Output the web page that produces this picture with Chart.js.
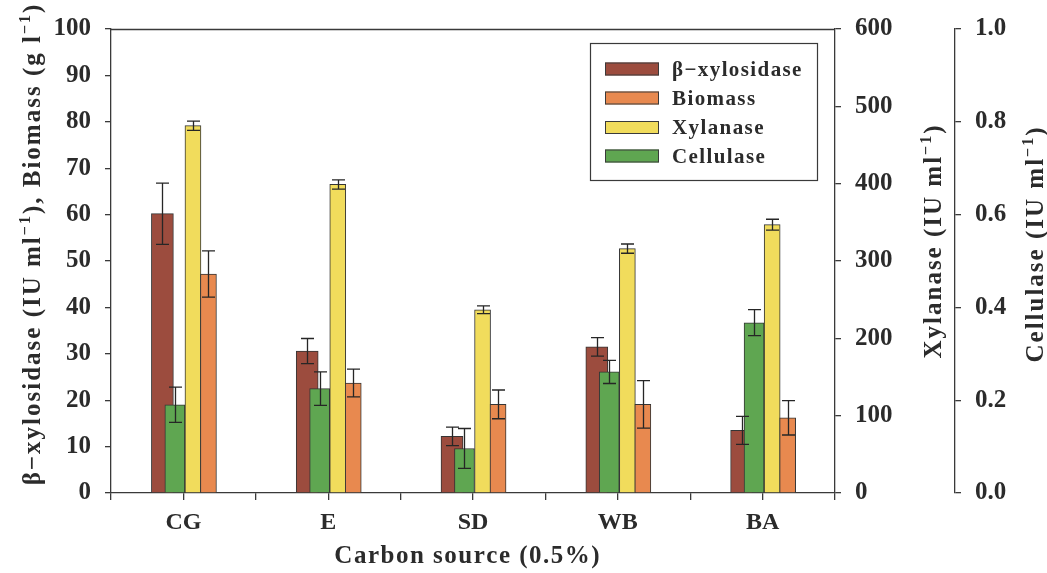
<!DOCTYPE html>
<html><head><meta charset="utf-8">
<script src="https://cdn.jsdelivr.net/npm/chart.js@4"></script>
<style>html,body{margin:0;padding:0;background:#fff;}#wrap{width:1047px;height:573px;}</style>
</head><body><div id="wrap"><canvas id="c" width="1047" height="573"></canvas></div>
<script>
// ---- data ----
const categories = ['CG', 'E', 'SD', 'WB', 'BA'];
const betaXylosidase = [60.2, 30.6, 12.2, 31.5, 13.5];
const betaXylosidaseErr = [6.6, 2.7, 2.0, 2.0, 3.0];
const biomass = [47.2, 23.7, 19.1, 19.1, 16.2];
const biomassErr = [5.0, 3.0, 3.1, 5.1, 3.7];
const xylanase = [475, 399, 237, 316, 347];
const xylanaseErr = [6, 6, 5, 6, 7];
const cellulase = [0.19, 0.225, 0.096, 0.261, 0.367];
const cellulaseErr = [0.038, 0.036, 0.043, 0.025, 0.028];
const leftTicks = [0, 10, 20, 30, 40, 50, 60, 70, 80, 90, 100];
const xylanaseTicks = [0, 100, 200, 300, 400, 500, 600];
const cellulaseTicks = [0.0, 0.2, 0.4, 0.6, 0.8, 1.0];

// ---- style ----
const FONT = '"Liberation Serif", "Times New Roman", serif';
const INK = '#2b2b2b';
const AX = '#3a3a3a';
const colors = { bx: '#9c4c3e', bio: '#e8894f', xyl: '#f1dc5c', cel: '#5fa651' };
// horizontal offset (in category units) and width of each series' bar
const seriesOffset = { bx: -0.145, bio: 0.173, xyl: 0.066, cel: -0.059 };
const seriesWidth = { bx: 22, bio: 16, xyl: 16, cel: 20 };

function pts(vals, key) { return vals.map((v, i) => ({ x: i + 0.5 + seriesOffset[key], y: v })); }

Chart.defaults.font.family = FONT;
Chart.defaults.font.weight = 'bold';
Chart.defaults.font.size = 25;
Chart.defaults.color = INK;

function tickSet(arr) { return s => { s.ticks = arr.map(v => ({ value: v })); }; }

const errorBars = {
  id: 'errorBars',
  afterDatasetsDraw(chart) {
    const ctx = chart.ctx;
    ctx.save();
    ctx.strokeStyle = '#262626';
    ctx.lineWidth = 1.3;
    chart.data.datasets.forEach((ds, di) => {
      const meta = chart.getDatasetMeta(di);
      const ys = chart.scales[ds.yAxisID];
      meta.data.forEach((bar, i) => {
        const v = ds.data[i].y, e = ds.errors[i];
        const yt = ys.getPixelForValue(v + e), yb = ys.getPixelForValue(v - e);
        const x = Math.round(bar.x) + 0.5, h = 6.5;
        ctx.beginPath();
        ctx.moveTo(x, yt); ctx.lineTo(x, yb);
        ctx.moveTo(x - h, yt); ctx.lineTo(x + h, yt);
        ctx.moveTo(x - h, yb); ctx.lineTo(x + h, yb);
        ctx.stroke();
      });
    });
    ctx.restore();
  }
};

function drawRich(ctx, segs, cx, cy, size, spacing, vertical) {
  ctx.save();
  ctx.translate(cx, cy);
  if (vertical) ctx.rotate(-Math.PI / 2);
  const fN = `bold ${size}px ${FONT}`, fS = `bold ${Math.round(size * 0.62)}px ${FONT}`;
  const chars = [];
  segs.forEach(s => {
    ctx.font = s.sup ? fS : fN;
    for (const ch of s.t) chars.push({ ch, sup: !!s.sup, w: ctx.measureText(ch).width });
  });
  let total = 0;
  chars.forEach((c, i) => { total += c.w + (i < chars.length - 1 ? spacing : 0); });
  let x = -total / 2;
  ctx.fillStyle = INK;
  ctx.textBaseline = 'alphabetic';
  ctx.textAlign = 'left';
  const base = size * 0.33;
  chars.forEach(c => {
    ctx.font = c.sup ? fS : fN;
    ctx.fillText(c.ch, x, c.sup ? base - size * 0.42 : base);
    x += c.w + spacing;
  });
  ctx.restore();
}

const decor = {
  id: 'decor',
  afterDraw(chart) {
    const ctx = chart.ctx, a = chart.chartArea;
    ctx.save();
    // top frame line
    ctx.strokeStyle = AX; ctx.lineWidth = 1.3;
    ctx.beginPath(); ctx.moveTo(a.left, a.top + 0.5); ctx.lineTo(a.right, a.top + 0.5); ctx.stroke();
    ctx.restore();
    // axis titles
    drawRich(ctx, [{ t: 'β−xylosidase (IU ml' }, { t: '−1', sup: true }, { t: '), Biomass (g l' }, { t: '−1', sup: true }, { t: ')' }], 32, 245, 25, 2.0, true);
    drawRich(ctx, [{ t: 'Xylanase (IU ml' }, { t: '−1', sup: true }, { t: ')' }], 933, 242, 25, 2.0, true);
    drawRich(ctx, [{ t: 'Cellulase (IU ml' }, { t: '−1', sup: true }, { t: ')' }], 1035, 245, 25, 2.0, true);
    drawRich(ctx, [{ t: 'Carbon source (0.5%)' }], (a.left + a.right) / 2 - 6, 555, 25, 1.5, false);
    // legend
    const lx = 590, ly = 43, lw = 227, lh = 137;
    ctx.save();
    ctx.fillStyle = '#fff';
    ctx.fillRect(lx, ly, lw, lh);
    ctx.strokeStyle = AX; ctx.lineWidth = 1.2;
    ctx.strokeRect(lx + 0.5, ly + 0.5, lw, lh);
    ctx.restore();
    const rows = [69, 98, 127.5, 156];
    chart.data.datasets.forEach((ds, i) => {
      ctx.save();
      ctx.fillStyle = ds.backgroundColor;
      ctx.strokeStyle = AX; ctx.lineWidth = 1;
      ctx.fillRect(605, rows[i] - 6.5, 54, 13);
      ctx.strokeRect(605.5, rows[i] - 6, 53, 12);
      ctx.restore();
      ctx.save();
      const size = 21, sp = 1.4;
      ctx.font = `bold ${size}px ${FONT}`;
      ctx.fillStyle = INK; ctx.textBaseline = 'alphabetic';
      let x = 672;
      for (const ch of ds.label) { ctx.fillText(ch, x, rows[i] + size * 0.33); x += ctx.measureText(ch).width + sp; }
      ctx.restore();
    });
  }
};

const axisCommon = (extra) => Object.assign({
  grid: { drawOnChartArea: false, drawTicks: true, tickLength: 6, color: AX, lineWidth: 1.3 },
  border: { display: true, color: AX, width: 1.3 },
}, extra);

new Chart(document.getElementById('c'), {
  type: 'bar',
  data: {
    datasets: [
      { label: 'β−xylosidase', data: pts(betaXylosidase, 'bx'), errors: betaXylosidaseErr, yAxisID: 'y', backgroundColor: colors.bx, barThickness: seriesWidth.bx, order: 4 },
      { label: 'Biomass', data: pts(biomass, 'bio'), errors: biomassErr, yAxisID: 'y', backgroundColor: colors.bio, barThickness: seriesWidth.bio, order: 1 },
      { label: 'Xylanase', data: pts(xylanase, 'xyl'), errors: xylanaseErr, yAxisID: 'y2', backgroundColor: colors.xyl, barThickness: seriesWidth.xyl, order: 2 },
      { label: 'Cellulase', data: pts(cellulase, 'cel'), errors: cellulaseErr, yAxisID: 'y3', backgroundColor: colors.cel, barThickness: seriesWidth.cel, order: 3 },
    ]
  },
  options: {
    responsive: false,
    animation: false,
    devicePixelRatio: 1,
    layout: { padding: { top: 26, left: 0, right: 0, bottom: 0 } },
    datasets: { bar: { grouped: false, borderWidth: 1, borderColor: '#353535' } },
    plugins: { legend: { display: false }, tooltip: { enabled: false } },
    scales: {
      x: axisCommon({
        type: 'linear', min: 0, max: categories.length, offset: false,
        grid: { drawOnChartArea: false, drawTicks: true, tickLength: 7, color: AX, lineWidth: 1.3, offset: false },
        afterBuildTicks: s => { const t = []; for (let i = 0; i <= categories.length * 2; i++) t.push({ value: i / 2 }); s.ticks = t; },
        ticks: {
          autoSkip: false, maxRotation: 0, padding: 8, font: { size: 24 },
          callback: v => (Math.abs(v % 1 - 0.5) < 1e-6 ? categories[Math.floor(v)] : '')
        },
        afterFit: s => { s.height = 80; }
      }),
      y: axisCommon({
        position: 'left', min: 0, max: 100,
        afterBuildTicks: tickSet(leftTicks),
        ticks: { padding: 14 },
        afterFit: s => { s.width = 111; }
      }),
      y2: axisCommon({
        position: 'right', min: 0, max: 600, weight: 1,
        afterBuildTicks: tickSet(xylanaseTicks),
        ticks: { padding: 14 },
        afterFit: s => { s.width = 120; }
      }),
      y3: axisCommon({
        position: 'right', min: 0, max: 1, weight: 2,
        afterBuildTicks: tickSet(cellulaseTicks),
        ticks: { padding: 14, callback: v => Number(v).toFixed(1) },
        afterFit: s => { s.width = 92; }
      })
    }
  },
  plugins: [errorBars, decor]
});
</script></body></html>
